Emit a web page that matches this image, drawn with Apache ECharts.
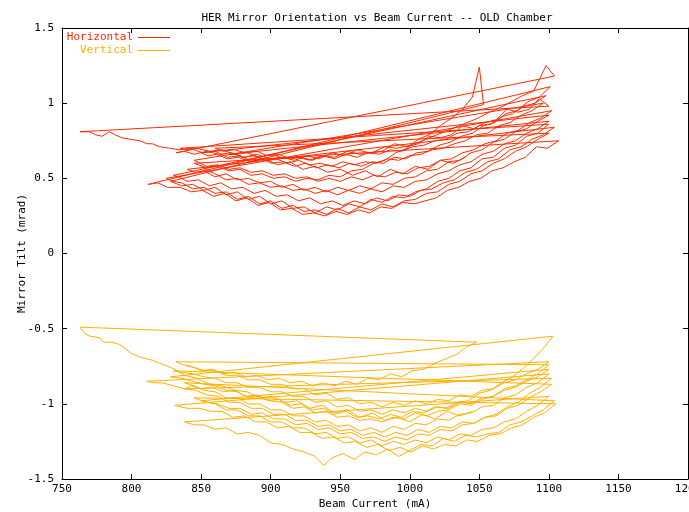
<!DOCTYPE html>
<html>
<head>
<meta charset="utf-8">
<script src="https://cdn.jsdelivr.net/npm/echarts@6/dist/echarts.min.js"></script>
<style>
  html, body { margin: 0; padding: 0; background: #fff; }
  #chart { width: 689px; height: 512px; }
</style>
</head>
<body>
<div id="chart"></div>
<script>
// each fill = [beam current (mA), mirror tilt (mrad)]
const h1 = [[1040,0.64],[1031,0.60],[1022,0.62],[1013,0.56],[1004,0.58],[995,0.53],[986,0.56],[977,0.51],[968,0.55],[959,0.52],[950,0.56],[941,0.54],[932,0.58],[923,0.56],[914,0.61],[905,0.59],[896,0.63],[887,0.61],[878,0.65],[869,0.64],[860,0.68],[851,0.67],[842,0.70],[834,0.69],[828,0.70],[820,0.71],[815,0.73],[811,0.73],[806,0.75],[799,0.76],[793,0.77],[788,0.79],[784,0.81],[779,0.78],[774,0.79],[770,0.81],[763,0.81]];
const h2 = [[1100,0.98],[1093,1.03],[1086,0.96],[1078,0.94],[1070,0.96],[1062,0.89],[1054,0.87],[1046,0.83],[1038,0.85],[1030,0.79],[1022,0.77],[1014,0.78],[1006,0.73],[998,0.71],[989,0.73],[980,0.68],[971,0.67],[962,0.69],[953,0.65],[944,0.67],[935,0.63],[926,0.65],[917,0.62],[908,0.64],[899,0.63],[890,0.66],[881,0.64],[872,0.67],[863,0.66],[854,0.68],[845,0.66],[838,0.68],[832,0.67]];
const h3 = [[1104,1.18],[1098,1.25],[1089,1.08],[1081,1.05],[1073,1.01],[1065,0.97],[1057,0.94],[1049,0.90],[1041,0.87],[1033,0.84],[1025,0.81],[1017,0.78],[1009,0.75],[1000,0.72],[991,0.70],[982,0.71],[973,0.67],[964,0.66],[955,0.68],[946,0.64],[937,0.65],[928,0.62],[919,0.64],[910,0.63],[901,0.66],[892,0.64],[883,0.67],[874,0.66],[865,0.69],[856,0.68],[847,0.70],[840,0.69],[835,0.70]];
const h4 = [[1100,0.86],[1092,0.80],[1084,0.78],[1076,0.72],[1068,0.70],[1060,0.64],[1052,0.63],[1044,0.57],[1036,0.55],[1028,0.50],[1020,0.48],[1012,0.43],[1004,0.41],[996,0.37],[988,0.38],[980,0.34],[972,0.36],[964,0.31],[956,0.33],[948,0.29],[940,0.31],[932,0.27],[924,0.31],[916,0.30],[908,0.35],[900,0.33],[892,0.38],[884,0.36],[876,0.41],[868,0.39],[860,0.44],[852,0.42],[844,0.46],[836,0.45],[828,0.48]];
const h5 = [[1053,0.99],[1050,1.24],[1045,1.04],[1038,0.96],[1030,0.90],[1022,0.85],[1014,0.79],[1006,0.76],[998,0.70],[990,0.67],[982,0.62],[974,0.60],[966,0.56],[958,0.55],[950,0.51],[942,0.52],[934,0.49],[926,0.50],[918,0.48],[910,0.51],[902,0.50],[894,0.53],[886,0.52],[878,0.56],[870,0.55],[862,0.58],[854,0.57],[845,0.60]];
const h6 = [[1107,0.75],[1099,0.70],[1091,0.71],[1083,0.64],[1075,0.61],[1067,0.57],[1059,0.55],[1051,0.50],[1043,0.48],[1035,0.44],[1027,0.42],[1019,0.37],[1011,0.35],[1003,0.33],[995,0.34],[987,0.30],[979,0.31],[971,0.27],[963,0.29],[955,0.26],[947,0.28],[939,0.25],[931,0.27],[923,0.26],[915,0.30],[907,0.29],[899,0.34],[891,0.32],[883,0.37],[875,0.35],[867,0.40],[859,0.38],[851,0.42],[843,0.41],[835,0.44],[826,0.44],[819,0.47],[812,0.46]];
const h7 = [[1101,1.11],[1093,1.04],[1085,1.01],[1077,0.95],[1069,0.93],[1061,0.87],[1053,0.85],[1045,0.80],[1037,0.78],[1029,0.74],[1021,0.72],[1013,0.68],[1005,0.67],[997,0.63],[989,0.64],[981,0.60],[973,0.61],[965,0.58],[957,0.60],[949,0.57],[941,0.59],[933,0.57],[925,0.60],[917,0.58],[909,0.61],[901,0.60],[893,0.63],[885,0.61],[877,0.64],[869,0.63],[861,0.66],[855,0.65],[850,0.67]];
const h8 = [[1100,0.92],[1092,0.88],[1084,0.83],[1076,0.81],[1068,0.76],[1060,0.74],[1052,0.69],[1044,0.67],[1036,0.62],[1028,0.61],[1020,0.56],[1012,0.55],[1004,0.51],[996,0.50],[988,0.46],[980,0.47],[972,0.43],[964,0.45],[956,0.42],[948,0.44],[940,0.41],[932,0.44],[924,0.42],[916,0.46],[908,0.44],[900,0.48],[892,0.47],[884,0.50],[876,0.49],[868,0.53],[860,0.51],[852,0.55],[846,0.54],[840,0.56]];
const h9 = [[1104,0.84],[1096,0.79],[1088,0.76],[1080,0.71],[1072,0.69],[1064,0.63],[1056,0.61],[1048,0.56],[1040,0.54],[1032,0.49],[1024,0.47],[1016,0.43],[1008,0.42],[1000,0.38],[992,0.39],[984,0.35],[976,0.37],[968,0.33],[960,0.35],[952,0.32],[944,0.35],[936,0.33],[928,0.37],[920,0.35],[912,0.39],[904,0.38],[896,0.42],[888,0.40],[880,0.44],[872,0.43],[864,0.47],[856,0.45],[848,0.49],[840,0.48],[834,0.51],[830,0.52]];
const h10 = [[1098,1.05],[1090,1.00],[1082,0.98],[1074,0.93],[1066,0.91],[1058,0.86],[1050,0.85],[1042,0.81],[1034,0.80],[1026,0.76],[1018,0.75],[1010,0.72],[1002,0.71],[994,0.68],[986,0.69],[978,0.66],[970,0.67],[962,0.64],[954,0.66],[946,0.63],[938,0.65],[930,0.62],[922,0.64],[914,0.63],[906,0.66],[898,0.65],[890,0.68],[882,0.67],[874,0.69],[866,0.68],[860,0.70]];
const h11 = [[1100,0.80],[1092,0.76],[1084,0.71],[1076,0.68],[1068,0.63],[1060,0.60],[1052,0.55],[1044,0.53],[1036,0.48],[1028,0.46],[1020,0.41],[1012,0.40],[1004,0.36],[996,0.35],[988,0.31],[980,0.33],[972,0.29],[964,0.31],[956,0.27],[948,0.30],[940,0.26],[932,0.29],[924,0.28],[916,0.32],[908,0.30],[900,0.35],[892,0.33],[884,0.38],[876,0.36],[868,0.41],[860,0.40],[852,0.44],[844,0.43],[836,0.47],[830,0.48],[825,0.50]];
const h12 = [[1102,0.95],[1094,0.90],[1086,0.87],[1078,0.82],[1070,0.80],[1062,0.75],[1054,0.73],[1046,0.69],[1038,0.67],[1030,0.63],[1022,0.62],[1014,0.58],[1006,0.57],[998,0.53],[990,0.54],[982,0.51],[974,0.52],[966,0.49],[958,0.51],[950,0.48],[942,0.50],[934,0.48],[926,0.51],[918,0.50],[910,0.53],[902,0.52],[894,0.55],[886,0.54],[878,0.57],[870,0.56],[862,0.59],[854,0.58],[845,0.62]];
const h13 = [[1096,1.00],[1088,0.95],[1080,0.92],[1072,0.87],[1064,0.85],[1056,0.80],[1048,0.79],[1040,0.75],[1032,0.73],[1024,0.70],[1016,0.69],[1008,0.66],[1000,0.65],[992,0.62],[984,0.63],[976,0.60],[968,0.61],[960,0.59],[952,0.61],[944,0.58],[936,0.60],[928,0.59],[920,0.62],[912,0.60],[904,0.63],[896,0.62],[888,0.65],[880,0.64],[874,0.66],[870,0.66]];
const h14 = [[1100,0.88],[1092,0.83],[1084,0.80],[1076,0.75],[1068,0.73],[1060,0.68],[1052,0.66],[1044,0.61],[1036,0.59],[1028,0.55],[1020,0.53],[1012,0.49],[1004,0.48],[996,0.44],[988,0.45],[980,0.41],[972,0.43],[964,0.40],[956,0.42],[948,0.39],[940,0.42],[932,0.40],[924,0.43],[916,0.42],[908,0.45],[900,0.44],[892,0.47],[884,0.46],[876,0.50],[868,0.49],[860,0.53],[855,0.55],[850,0.58]];

const v1 = [[1045,-1.05],[1036,-1.08],[1027,-1.05],[1018,-1.10],[1009,-1.07],[1000,-1.12],[991,-1.09],[982,-1.11],[973,-1.06],[964,-1.09],[955,-1.04],[946,-1.06],[937,-1.01],[928,-1.03],[919,-0.98],[910,-0.99],[901,-0.95],[892,-0.96],[883,-0.92],[874,-0.91],[865,-0.88],[856,-0.87],[847,-0.83],[838,-0.81],[831,-0.77],[826,-0.75],[820,-0.73],[815,-0.71],[811,-0.70],[806,-0.69],[799,-0.66],[794,-0.62],[790,-0.60],[785,-0.59],[780,-0.59],[777,-0.56],[770,-0.55],[766,-0.53],[763,-0.49]];
const v2 = [[1048,-0.59],[1041,-0.62],[1034,-0.67],[1026,-0.70],[1018,-0.73],[1010,-0.77],[1002,-0.78],[994,-0.82],[986,-0.80],[978,-0.84],[970,-0.83],[962,-0.87],[954,-0.85],[946,-0.88],[938,-0.86],[930,-0.88],[922,-0.85],[914,-0.86],[906,-0.83],[898,-0.84],[890,-0.81],[882,-0.82],[874,-0.79],[866,-0.80],[858,-0.77],[850,-0.78],[843,-0.75],[837,-0.74],[832,-0.72]];
const v3 = [[1100,-0.74],[1092,-0.80],[1084,-0.84],[1076,-0.88],[1068,-0.90],[1060,-0.95],[1052,-0.97],[1044,-1.01],[1036,-1.00],[1028,-1.04],[1020,-1.05],[1012,-1.08],[1004,-1.06],[996,-1.10],[988,-1.09],[980,-1.12],[972,-1.10],[964,-1.11],[956,-1.08],[948,-1.09],[940,-1.05],[932,-1.06],[924,-1.02],[916,-1.03],[908,-0.99],[900,-0.98],[892,-0.95],[884,-0.96],[876,-0.92],[868,-0.91],[860,-0.88],[852,-0.87],[844,-0.85],[836,-0.83],[828,-0.82]];
const v4 = [[1103,-0.55],[1096,-0.63],[1089,-0.70],[1082,-0.76],[1074,-0.82],[1066,-0.86],[1058,-0.91],[1050,-0.93],[1042,-0.98],[1034,-0.99],[1026,-1.03],[1018,-1.02],[1010,-1.06],[1002,-1.05],[994,-1.09],[986,-1.07],[978,-1.10],[970,-1.08],[962,-1.09],[954,-1.05],[946,-1.07],[938,-1.03],[930,-1.04],[922,-1.00],[914,-1.01],[906,-0.97],[898,-0.98],[890,-0.94],[882,-0.95],[874,-0.91],[866,-0.92],[858,-0.89],[850,-0.90],[843,-0.88],[838,-0.90]];
const v5 = [[1102,-0.83],[1094,-0.89],[1086,-0.93],[1078,-0.99],[1070,-1.02],[1062,-1.07],[1054,-1.09],[1046,-1.13],[1038,-1.14],[1030,-1.18],[1022,-1.17],[1014,-1.21],[1006,-1.20],[998,-1.24],[990,-1.22],[982,-1.25],[974,-1.22],[966,-1.23],[958,-1.19],[950,-1.20],[942,-1.16],[934,-1.17],[926,-1.13],[918,-1.14],[910,-1.10],[902,-1.10],[894,-1.06],[886,-1.07],[878,-1.03],[870,-1.03],[862,-1.00],[854,-0.99],[845,-0.96]];
const v6 = [[1105,-1.00],[1097,-1.06],[1089,-1.09],[1081,-1.14],[1073,-1.16],[1065,-1.20],[1057,-1.21],[1049,-1.25],[1041,-1.24],[1033,-1.28],[1025,-1.27],[1017,-1.30],[1009,-1.28],[1001,-1.32],[993,-1.29],[985,-1.31],[977,-1.27],[969,-1.29],[961,-1.25],[953,-1.26],[945,-1.22],[937,-1.23],[929,-1.19],[921,-1.19],[913,-1.15],[905,-1.16],[897,-1.12],[889,-1.12],[881,-1.08],[873,-1.09],[865,-1.05],[857,-1.05],[849,-1.03],[840,-1.03],[831,-1.01]];
const v7 = [[1100,-0.80],[1092,-0.86],[1084,-0.89],[1076,-0.94],[1068,-0.96],[1060,-1.01],[1052,-1.02],[1044,-1.06],[1036,-1.07],[1028,-1.11],[1020,-1.10],[1012,-1.14],[1004,-1.13],[996,-1.17],[988,-1.15],[980,-1.19],[972,-1.16],[964,-1.18],[956,-1.14],[948,-1.15],[940,-1.11],[932,-1.12],[924,-1.08],[916,-1.08],[908,-1.04],[900,-1.04],[892,-1.00],[884,-1.00],[876,-0.96],[868,-0.96],[860,-0.92],[852,-0.91],[845,-0.88],[838,-0.86]];
const v8 = [[1104,-0.98],[1096,-1.04],[1088,-1.08],[1080,-1.12],[1072,-1.14],[1064,-1.19],[1056,-1.20],[1048,-1.22],[1040,-1.21],[1032,-1.25],[1024,-1.23],[1016,-1.28],[1008,-1.27],[1000,-1.31],[992,-1.35],[984,-1.30],[976,-1.34],[968,-1.32],[960,-1.37],[952,-1.33],[944,-1.36],[938,-1.41],[932,-1.35],[924,-1.32],[916,-1.30],[908,-1.27],[900,-1.26],[892,-1.21],[884,-1.19],[876,-1.20],[868,-1.16],[860,-1.17],[852,-1.14],[845,-1.14],[838,-1.12]];
const v9 = [[1100,-0.95],[1092,-1.01],[1084,-1.05],[1076,-1.10],[1068,-1.12],[1060,-1.16],[1052,-1.17],[1044,-1.21],[1036,-1.20],[1028,-1.24],[1020,-1.22],[1012,-1.26],[1004,-1.24],[996,-1.27],[988,-1.25],[980,-1.28],[972,-1.24],[964,-1.26],[956,-1.22],[948,-1.23],[940,-1.19],[932,-1.20],[924,-1.16],[916,-1.16],[908,-1.12],[900,-1.12],[892,-1.08],[884,-1.08],[876,-1.04],[868,-1.04],[860,-1.00],[855,-0.99],[850,-0.98]];
const v10 = [[1100,-0.77],[1092,-0.82],[1084,-0.85],[1076,-0.89],[1068,-0.91],[1060,-0.95],[1052,-0.96],[1044,-1.00],[1036,-0.99],[1028,-1.03],[1020,-1.02],[1012,-1.05],[1004,-1.03],[996,-1.06],[988,-1.04],[980,-1.07],[972,-1.04],[964,-1.05],[956,-1.01],[948,-1.02],[940,-0.98],[932,-0.99],[924,-0.95],[916,-0.95],[908,-0.92],[900,-0.92],[892,-0.89],[884,-0.89],[876,-0.86],[868,-0.86],[860,-0.83],[852,-0.82],[844,-0.80],[836,-0.79],[830,-0.78]];
const v11 = [[1102,-0.87],[1094,-0.92],[1086,-0.96],[1078,-1.01],[1070,-1.03],[1062,-1.08],[1054,-1.09],[1046,-1.13],[1038,-1.12],[1030,-1.16],[1022,-1.15],[1014,-1.19],[1006,-1.17],[998,-1.21],[990,-1.19],[982,-1.22],[974,-1.19],[966,-1.21],[958,-1.17],[950,-1.18],[942,-1.14],[934,-1.15],[926,-1.11],[918,-1.11],[910,-1.07],[902,-1.07],[894,-1.03],[886,-1.03],[878,-0.99],[870,-0.99],[862,-0.95],[854,-0.94],[846,-0.91],[838,-0.90],[830,-0.88],[822,-0.86],[816,-0.86],[811,-0.85]];
const v12 = [[1100,-0.72],[1092,-0.77],[1084,-0.80],[1076,-0.84],[1068,-0.86],[1060,-0.90],[1052,-0.91],[1044,-0.95],[1036,-0.94],[1028,-0.98],[1020,-0.97],[1012,-1.00],[1004,-0.98],[996,-1.01],[988,-0.99],[980,-1.02],[972,-0.99],[964,-1.00],[956,-0.96],[948,-0.97],[940,-0.93],[932,-0.94],[924,-0.90],[916,-0.90],[908,-0.87],[900,-0.87],[892,-0.84],[884,-0.84],[876,-0.81],[868,-0.81],[860,-0.78],[852,-0.78],[846,-0.76],[840,-0.75]];

const horizontalData = [].concat(h1, h2, h3, h4, h5, h6, h7, h8, h9, h10, h11, h12, h13, h14);
const verticalData = [].concat(v1, v2, v3, v4, v5, v6, v7, v8, v9, v10, v11, v12);

const RED = "#ff2a00";
const ORANGE = "#ffb000";
const FONT = "DejaVu Sans Mono";

const chart = echarts.init(document.getElementById("chart"), null, { renderer: "canvas" });

const tickStyle = { show: true, inside: true, length: 5, lineStyle: { color: "#000" } };
const lineAxis = { show: true, onZero: false, lineStyle: { color: "#000", width: 1 } };
const plain = (v) => String(v);

chart.setOption({
  animation: false,
  backgroundColor: "#fff",
  title: {
    text: "HER Mirror Orientation vs Beam Current -- OLD Chamber",
    left: 372,
    top: 8,
    textAlign: "center",
    textStyle: { fontFamily: FONT, fontSize: 11, fontWeight: "normal", color: "#000" },
  },
  legend: [
    {
      data: ["Horizontal"],
      right: 519,
      top: 32,
      padding: 0,
      align: "right",
      icon: "rect",
      itemWidth: 32,
      itemHeight: 1,
      textStyle: { fontFamily: FONT, fontSize: 11, color: RED },
    },
    {
      data: ["Vertical"],
      right: 519,
      top: 45,
      padding: 0,
      align: "right",
      icon: "rect",
      itemWidth: 32,
      itemHeight: 1,
      textStyle: { fontFamily: FONT, fontSize: 11, color: ORANGE },
    },
  ],
  grid: { left: 62, right: 1, top: 28, bottom: 33, containLabel: false, outerBoundsMode: "none" },
  xAxis: [
    {
      type: "value",
      min: 750,
      max: 1200,
      interval: 50,
      name: "Beam Current (mA)",
      nameLocation: "middle",
      nameGap: 20,
      nameMoveOverlap: false,
      nameTextStyle: { fontFamily: FONT, fontSize: 11, color: "#000" },
      axisLine: lineAxis,
      axisTick: tickStyle,
      splitLine: { show: false },
      axisLabel: { fontFamily: FONT, fontSize: 11, color: "#000", margin: 5, formatter: plain },
    },
    {
      type: "value",
      position: "top",
      min: 750,
      max: 1200,
      interval: 50,
      axisLine: lineAxis,
      axisTick: tickStyle,
      splitLine: { show: false },
      axisLabel: { show: false },
    },
  ],
  yAxis: [
    {
      type: "value",
      min: -1.5,
      max: 1.5,
      interval: 0.5,
      name: "Mirror Tilt (mrad)",
      nameLocation: "middle",
      nameGap: 34,
      nameMoveOverlap: false,
      nameRotate: 90,
      nameTextStyle: { fontFamily: FONT, fontSize: 11, color: "#000" },
      axisLine: lineAxis,
      axisTick: tickStyle,
      splitLine: { show: false },
      axisLabel: { fontFamily: FONT, fontSize: 11, color: "#000", margin: 8, formatter: plain },
    },
    {
      type: "value",
      position: "right",
      min: -1.5,
      max: 1.5,
      interval: 0.5,
      axisLine: lineAxis,
      axisTick: tickStyle,
      splitLine: { show: false },
      axisLabel: { show: false },
    },
  ],
  series: [
    {
      name: "Horizontal",
      type: "line",
      data: horizontalData,
      symbol: "none",
      color: RED,
      lineStyle: { color: RED, width: 1 },
    },
    {
      name: "Vertical",
      type: "line",
      data: verticalData,
      symbol: "none",
      color: ORANGE,
      lineStyle: { color: ORANGE, width: 1 },
    },
  ],
});
</script>
</body>
</html>
